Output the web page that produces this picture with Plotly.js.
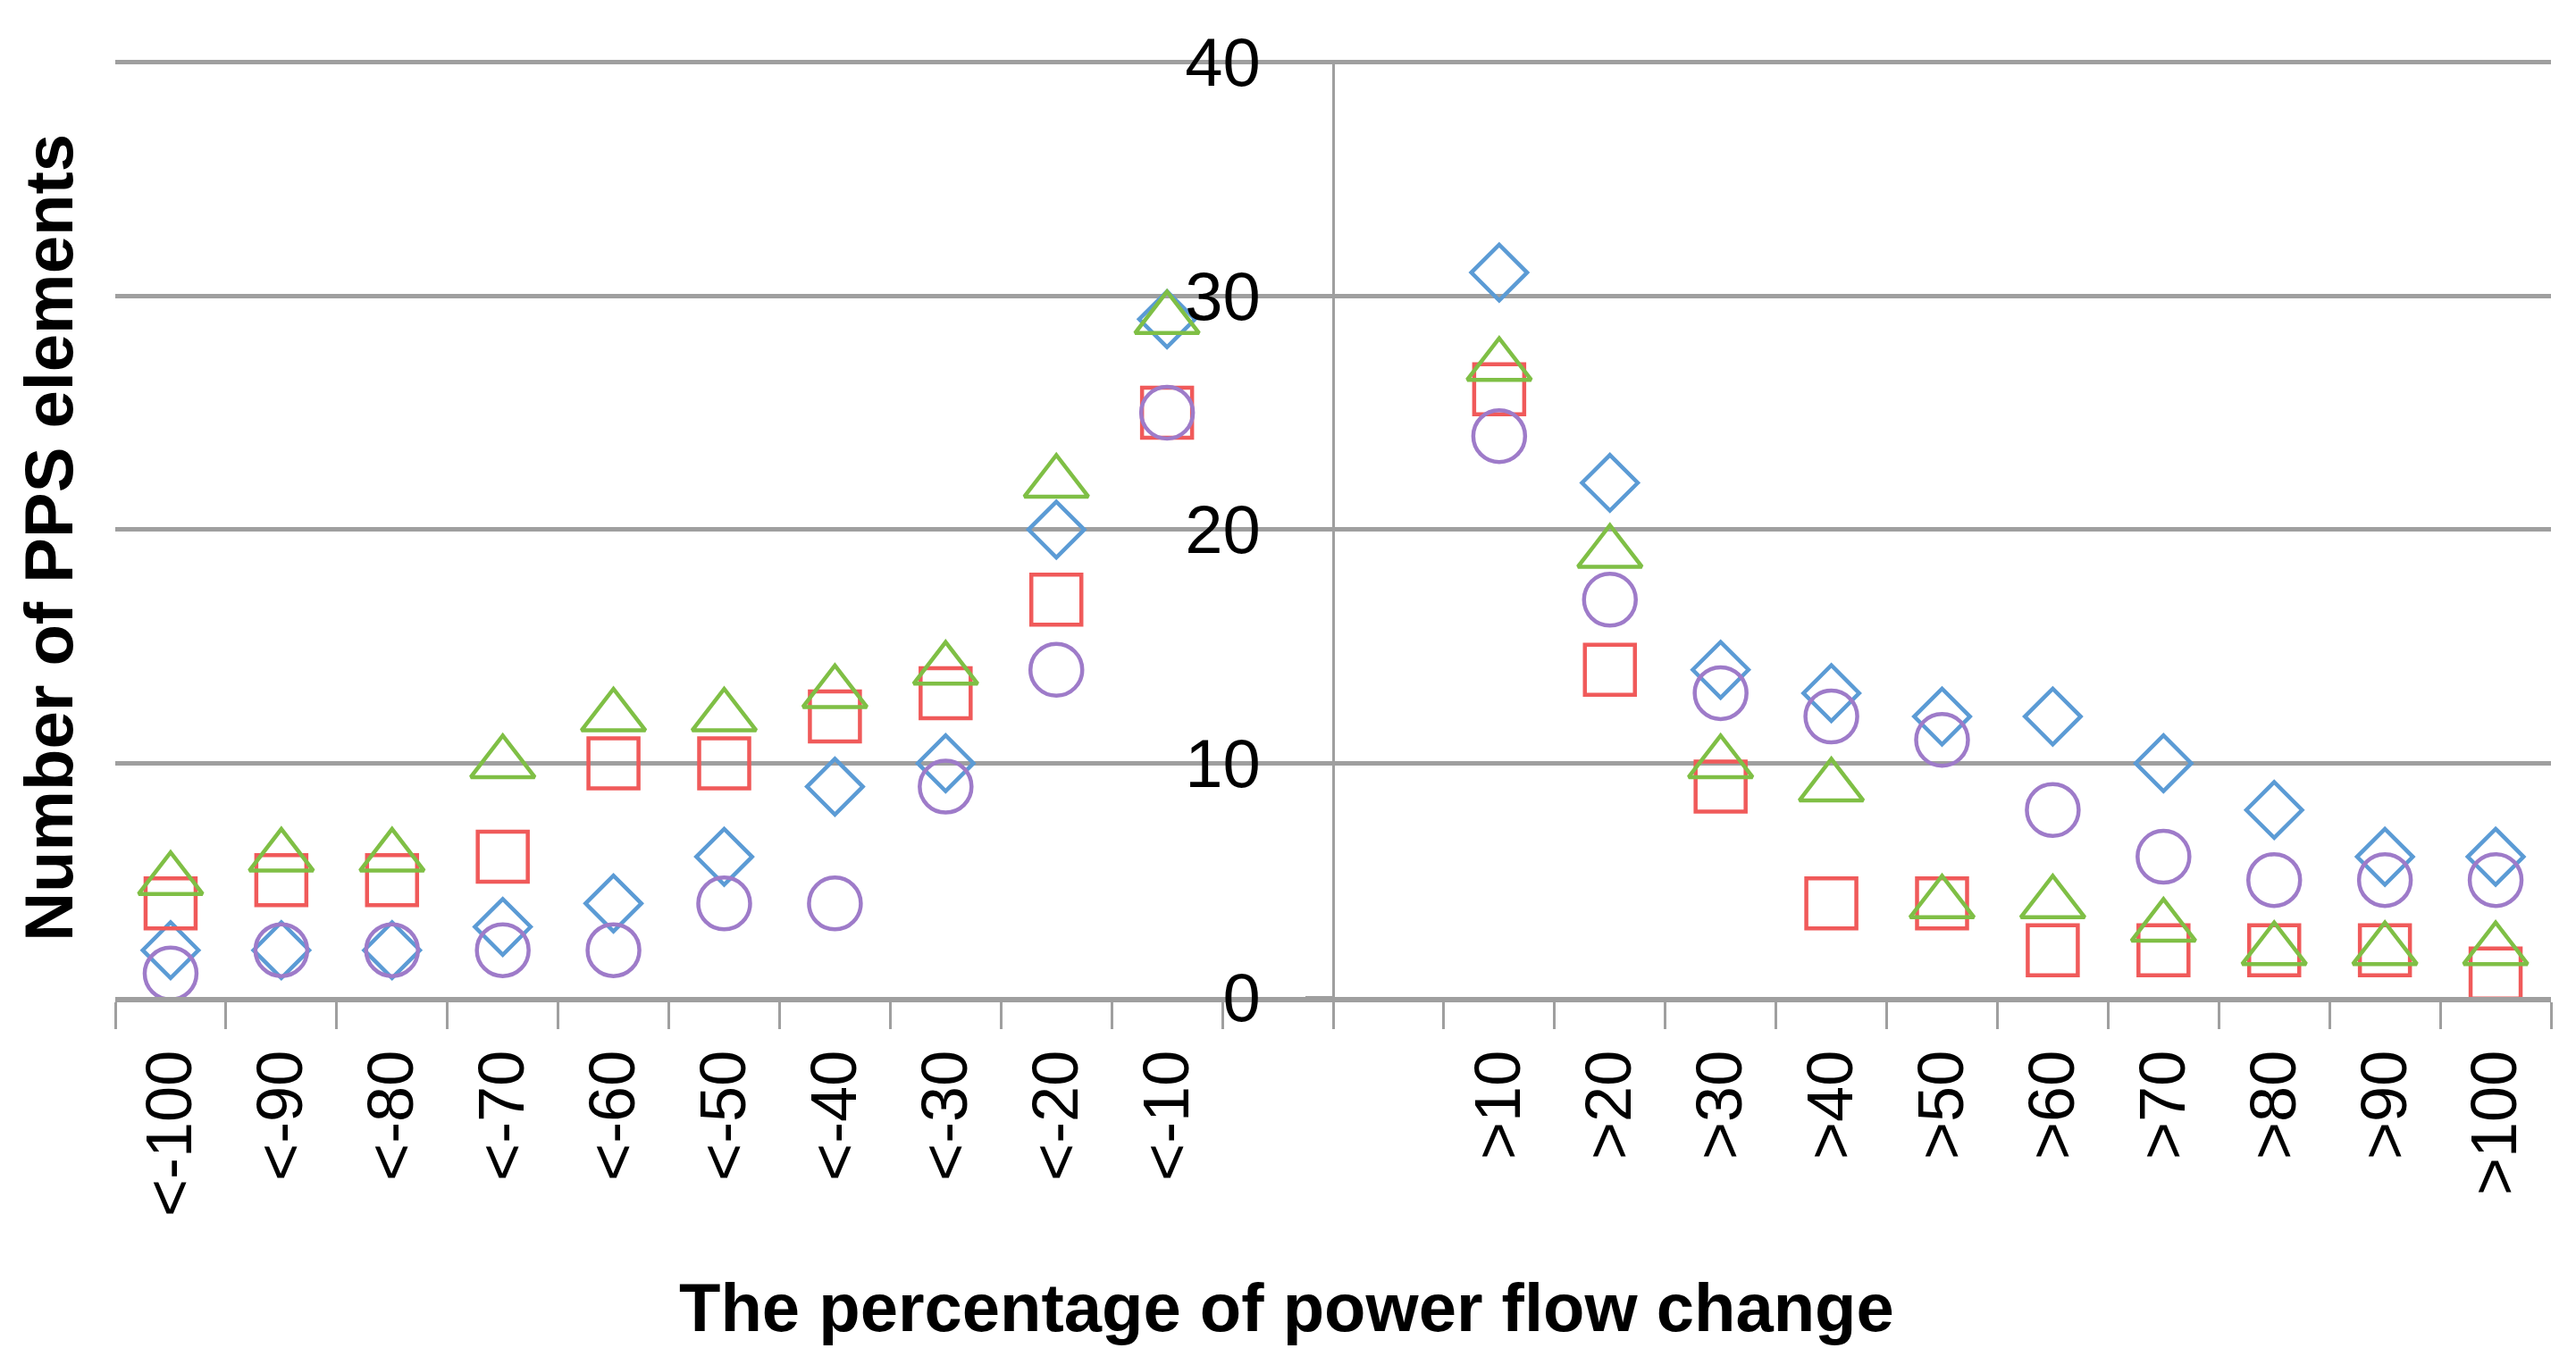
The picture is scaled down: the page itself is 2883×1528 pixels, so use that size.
<!DOCTYPE html>
<html>
<head>
<meta charset="utf-8">
<script src="https://cdn.plot.ly/plotly-3.0.1.min.js"></script>
<style>html,body{margin:0;padding:0;background:#fff;}#chart{width:2883px;height:1528px;}</style>
</head>
<body>
<div id="chart"></div>
<script>
const categories = ["<-100","<-90","<-80","<-70","<-60","<-50","<-40","<-30","<-20","<-10"," ","  ",">10",">20",">30",">40",">50",">60",">70",">80",">90",">100"];
const seriesDiamond = [2,2,2,3,4,6,9,10,20,29,null,null,31,22,14,13,12,12,10,8,6,6];
const seriesSquare = [4,5,5,6,10,10,12,13,17,25,null,null,26,14,9,4,4,2,2,2,2,1];
const seriesTriangle = [5,6,6,10,12,12,13,14,22,29,null,null,27,19,10,9,4,4,3,2,2,2];
const seriesCircle = [1,2,2,2,2,4,4,9,14,25,null,null,24,17,13,12,11,8,6,5,5,5];
const yTicks = [0,10,20,30,40];
const xTitle = "The percentage of power flow change";
const yTitle = "Number of PPS elements";

const FONT = "Liberation Sans, Arial, sans-serif";
const GRID = "#9f9f9f";

function mk(name, vals, symbol, color, size) {
  return {
    type: "scatter", mode: "markers", name: name,
    x: categories, y: vals,
    marker: {symbol: symbol, size: size, color: color, line: {color: color, width: 4.5}},
    showlegend: false, cliponaxis: false
  };
}

const data = [
  mk("Series 1", seriesDiamond, "diamond-open", "#5b9bd5", 48),
  mk("Series 2", seriesSquare, "square-open", "#f05a5a", 56),
  mk("Series 3", seriesTriangle, "triangle-up-open", "#7fbf45", 62),
  mk("Series 4", seriesCircle, "circle-open", "#9e7bc9", 58)
];

const layout = {
  width: 2883, height: 1528,
  margin: {l: 129, r: 28, t: 67, b: 412},
  paper_bgcolor: "#fff", plot_bgcolor: "#fff",
  font: {family: FONT, color: "#000"},
  xaxis: {
    type: "category", categoryorder: "array", categoryarray: categories,
    range: [-0.5, 21.5], tickson: "boundaries",
    ticks: "outside", ticklen: 30, tickwidth: 3, tickcolor: GRID,
    showline: true, linecolor: GRID, linewidth: 6,
    showgrid: false, zeroline: false,
    tickangle: -90, tickfont: {size: 72, family: FONT, color: "#000"},
    ticklabelstandoff: 25
  },
  yaxis: {
    anchor: "free", position: 0.5, side: "left",
    range: [0, 40.1], tickvals: yTicks,
    showgrid: true, gridcolor: GRID, gridwidth: 5, zeroline: false,
    showline: true, linecolor: GRID, linewidth: 3,
    ticks: "outside", ticklen: 30, tickwidth: 3, tickcolor: GRID,
    tickfont: {size: 76, family: FONT, color: "#000"}, ticklabelstandoff: 35
  },
  annotations: [
    {text: yTitle, xref: "paper", yref: "paper", x: -0.0272, y: 0.49, xanchor: "center", yanchor: "middle",
     textangle: -90, showarrow: false, font: {size: 76, family: FONT, weight: "bold", color: "#000"}},
    {text: xTitle, xref: "paper", yref: "paper", x: 0.481, y: -0.331, xanchor: "center", yanchor: "middle",
     showarrow: false, font: {size: 76, family: FONT, weight: "bold", color: "#000"}}
  ]
};

Plotly.newPlot("chart", data, layout, {displayModeBar: false, staticPlot: true});
</script>
</body>
</html>
